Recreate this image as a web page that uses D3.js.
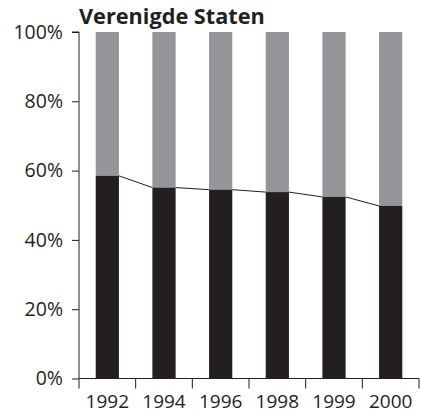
<!DOCTYPE html>
<html><head><meta charset="utf-8">
<script src="https://cdn.jsdelivr.net/npm/d3@7"></script>
<style>body{margin:0;background:#fff}svg{display:block}</style>
</head><body>
<svg id="c" width="421" height="412"></svg>
<script>
const title = "Verenigde Staten";
const years = ["1992","1994","1996","1998","1999","2000"];
const lower = [58.5, 55.1, 54.5, 53.8, 52.4, 49.8];
const yTicks = [0, 20, 40, 60, 80, 100];

const svg = d3.select("#c");
const L = 79, R = 419, T = 32, B = 378.5;
const font = "'Open Sans', sans-serif";
const ink = "#231f20";

const x = d3.scaleBand().domain(years).range([L, R]).paddingInner(0.59).paddingOuter(0.295);
const y = d3.scaleLinear().domain([0, 100]).range([B, T]);
const step = x.step(), bw = x.bandwidth();

// bars
const g = svg.append("g");
g.selectAll("rect.top").data(years).join("rect")
  .attr("x", d => x(d)).attr("width", bw)
  .attr("y", y(100)).attr("height", (d, i) => y(lower[i]) - y(100))
  .attr("fill", "#939598");
g.selectAll("rect.bot").data(years).join("rect")
  .attr("x", d => x(d)).attr("width", bw)
  .attr("y", (d, i) => y(lower[i])).attr("height", (d, i) => y(0) - y(lower[i]))
  .attr("fill", ink);

// series lines between bars
const segs = d3.pairs(years.map((d, i) => ({d, v: lower[i]})));
g.selectAll("line.s").data(segs).join("line")
  .attr("x1", p => x(p[0].d) + bw).attr("y1", p => y(p[0].v))
  .attr("x2", p => x(p[1].d)).attr("y2", p => y(p[1].v))
  .attr("stroke", ink).attr("stroke-width", 1);

// y axis
const ya = svg.append("g").attr("transform", `translate(${L},0)`)
  .call(d3.axisLeft(y).tickValues(yTicks).tickFormat(d => d + "%").tickSize(7).tickPadding(9));
ya.select(".domain").attr("d", `M-7,${y(100)}H0V${y(0)}`).attr("stroke", ink);
ya.selectAll(".tick line").attr("stroke", ink);
ya.selectAll("text").attr("font-family", font).attr("font-size", 19.5).attr("fill", ink);

// x axis (ticks at band boundaries)
const xb = svg.append("g").attr("transform", `translate(0,${B})`);
xb.append("line").attr("x1", L).attr("x2", R).attr("y1", 0).attr("y2", 0).attr("stroke", ink);
const bounds = years.map(d => x(d) - (step - bw) / 2).concat([R]);
xb.selectAll("line.t").data(bounds).join("line")
  .attr("x1", d => d).attr("x2", d => d).attr("y1", 0).attr("y2", 10).attr("stroke", ink);
xb.selectAll("text").data(years).join("text")
  .attr("x", d => x(d) + bw / 2).attr("y", 29)
  .attr("text-anchor", "middle").attr("font-family", font).attr("font-size", 19).attr("fill", ink)
  .text(d => d);

svg.append("text").attr("x", L).attr("y", 24)
  .attr("font-family", font).attr("font-weight", "bold").attr("font-size", 21.7).attr("fill", ink)
  .text(title);
</script>
</body></html>
